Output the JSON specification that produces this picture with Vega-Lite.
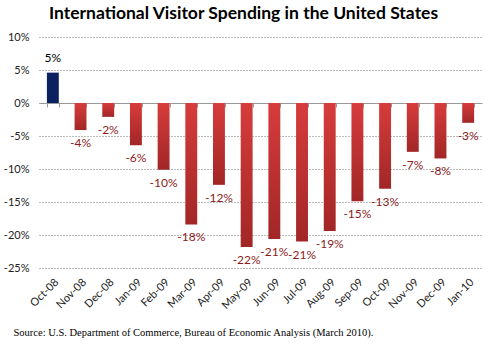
{
  "$schema": "https://vega.github.io/schema/vega-lite/v6.json",
  "autosize": {"type": "none"},
  "width": 443,
  "height": 231,
  "padding": {"left": 39, "top": 37, "right": 13, "bottom": 81},
  "background": "white",
  "title": {
    "text": "International Visitor Spending in the United States",
    "font": "Lato",
    "fontSize": 17.5,
    "fontWeight": "bold",
    "color": "#000000",
    "anchor": "middle",
    "dx": -17,
    "offset": 9
  },
  "data": {
    "values": [
      {"month": "Oct-08", "value": 0.046},
      {"month": "Nov-08", "value": -0.041},
      {"month": "Dec-08", "value": -0.021},
      {"month": "Jan-09", "value": -0.064},
      {"month": "Feb-09", "value": -0.101},
      {"month": "Mar-09", "value": -0.184},
      {"month": "Apr-09", "value": -0.124},
      {"month": "May-09", "value": -0.218},
      {"month": "Jun-09", "value": -0.206},
      {"month": "Jul-09", "value": -0.21},
      {"month": "Aug-09", "value": -0.194},
      {"month": "Sep-09", "value": -0.149},
      {"month": "Oct-09", "value": -0.13},
      {"month": "Nov-09", "value": -0.074},
      {"month": "Dec-09", "value": -0.084},
      {"month": "Jan-10", "value": -0.03}
    ]
  },
  "encoding": {
    "x": {
      "field": "month",
      "type": "ordinal",
      "sort": null,
      "scale": {"paddingInner": 0.57, "paddingOuter": 0.285},
      "axis": null
    },
    "y": {
      "field": "value",
      "type": "quantitative",
      "scale": {"domain": [-0.25, 0.1], "nice": false, "zero": false},
      "axis": {
        "title": null,
        "values": [-0.25, -0.2, -0.15, -0.1, -0.05, 0, 0.05, 0.1],
        "format": ".0%",
        "domain": false,
        "ticks": false,
        "labelOverlap": false,
        "labelPadding": 10,
        "labelFont": "Lato",
        "labelFontSize": 11,
        "labelColor": "#222222",
        "grid": true,
        "gridColor": "#777777",
        "gridDash": [1, 2],
        "gridWidth": 1
      }
    }
  },
  "layer": [
    {
      "mark": {"type": "bar", "color": "#0b2160"},
      "transform": [{"filter": "datum.value >= 0"}]
    },
    {
      "mark": {
        "type": "bar",
        "color": {
          "gradient": "linear",
          "x1": 0, "y1": 0, "x2": 0, "y2": 1,
          "stops": [
            {"offset": 0, "color": "#d73c3c"},
            {"offset": 1, "color": "#a22626"}
          ]
        }
      },
      "transform": [{"filter": "datum.value < 0"}]
    },
    {
      "mark": {"type": "tick", "opacity": 0},
      "encoding": {
        "x": {
          "field": "month",
          "type": "ordinal",
          "sort": null,
          "axis": {
            "orient": "bottom",
            "title": "Source: U.S. Department of Commerce, Bureau of Economic Analysis (March 2010).",
            "titleFont": "Liberation Serif",
            "titleFontSize": 10.5,
            "titleFontWeight": "normal",
            "titleColor": "#000000",
            "titleAnchor": "start",
            "titleAlign": "left",
            "titleX": -26,
            "titleY": 59,
            "domain": false,
            "ticks": false,
            "grid": false,
            "labelAngle": -45,
            "labelAlign": "right",
            "labelBaseline": "top",
            "labelPadding": 8,
            "labelFont": "Lato",
            "labelFontSize": 11,
            "labelColor": "#222222"
          }
        }
      }
    },
    {
      "mark": {"type": "tick", "opacity": 0},
      "encoding": {
        "x": {
          "field": "month",
          "type": "ordinal",
          "sort": null,
          "axis": {
            "orient": "bottom",
            "offset": -165,
            "title": null,
            "labels": false,
            "domain": true,
            "domainColor": "#999999",
            "ticks": true,
            "tickBand": "extent",
            "tickColor": "#999999",
            "tickSize": 4,
            "grid": false
          }
        }
      }
    },
    {
      "mark": {"type": "text", "font": "Lato", "fontSize": 12, "baseline": "middle", "dy": -15, "color": "#000000"},
      "transform": [{"filter": "datum.value >= 0"}],
      "encoding": {"text": {"field": "value", "type": "quantitative", "format": ".0%"}}
    },
    {
      "mark": {"type": "text", "font": "Lato", "fontSize": 12, "baseline": "middle", "dy": 13, "color": "#8b1c1c"},
      "transform": [{"filter": "datum.value < 0"}],
      "encoding": {"text": {"field": "value", "type": "quantitative", "format": ".0%"}}
    }
  ],
  "resolve": {"axis": {"x": "independent"}},
  "config": {
    "view": {"stroke": null},
    "locale": {
      "number": {"decimal": ".", "thousands": ",", "grouping": [3], "currency": ["$", ""], "minus": "-"}
    }
  }
}
